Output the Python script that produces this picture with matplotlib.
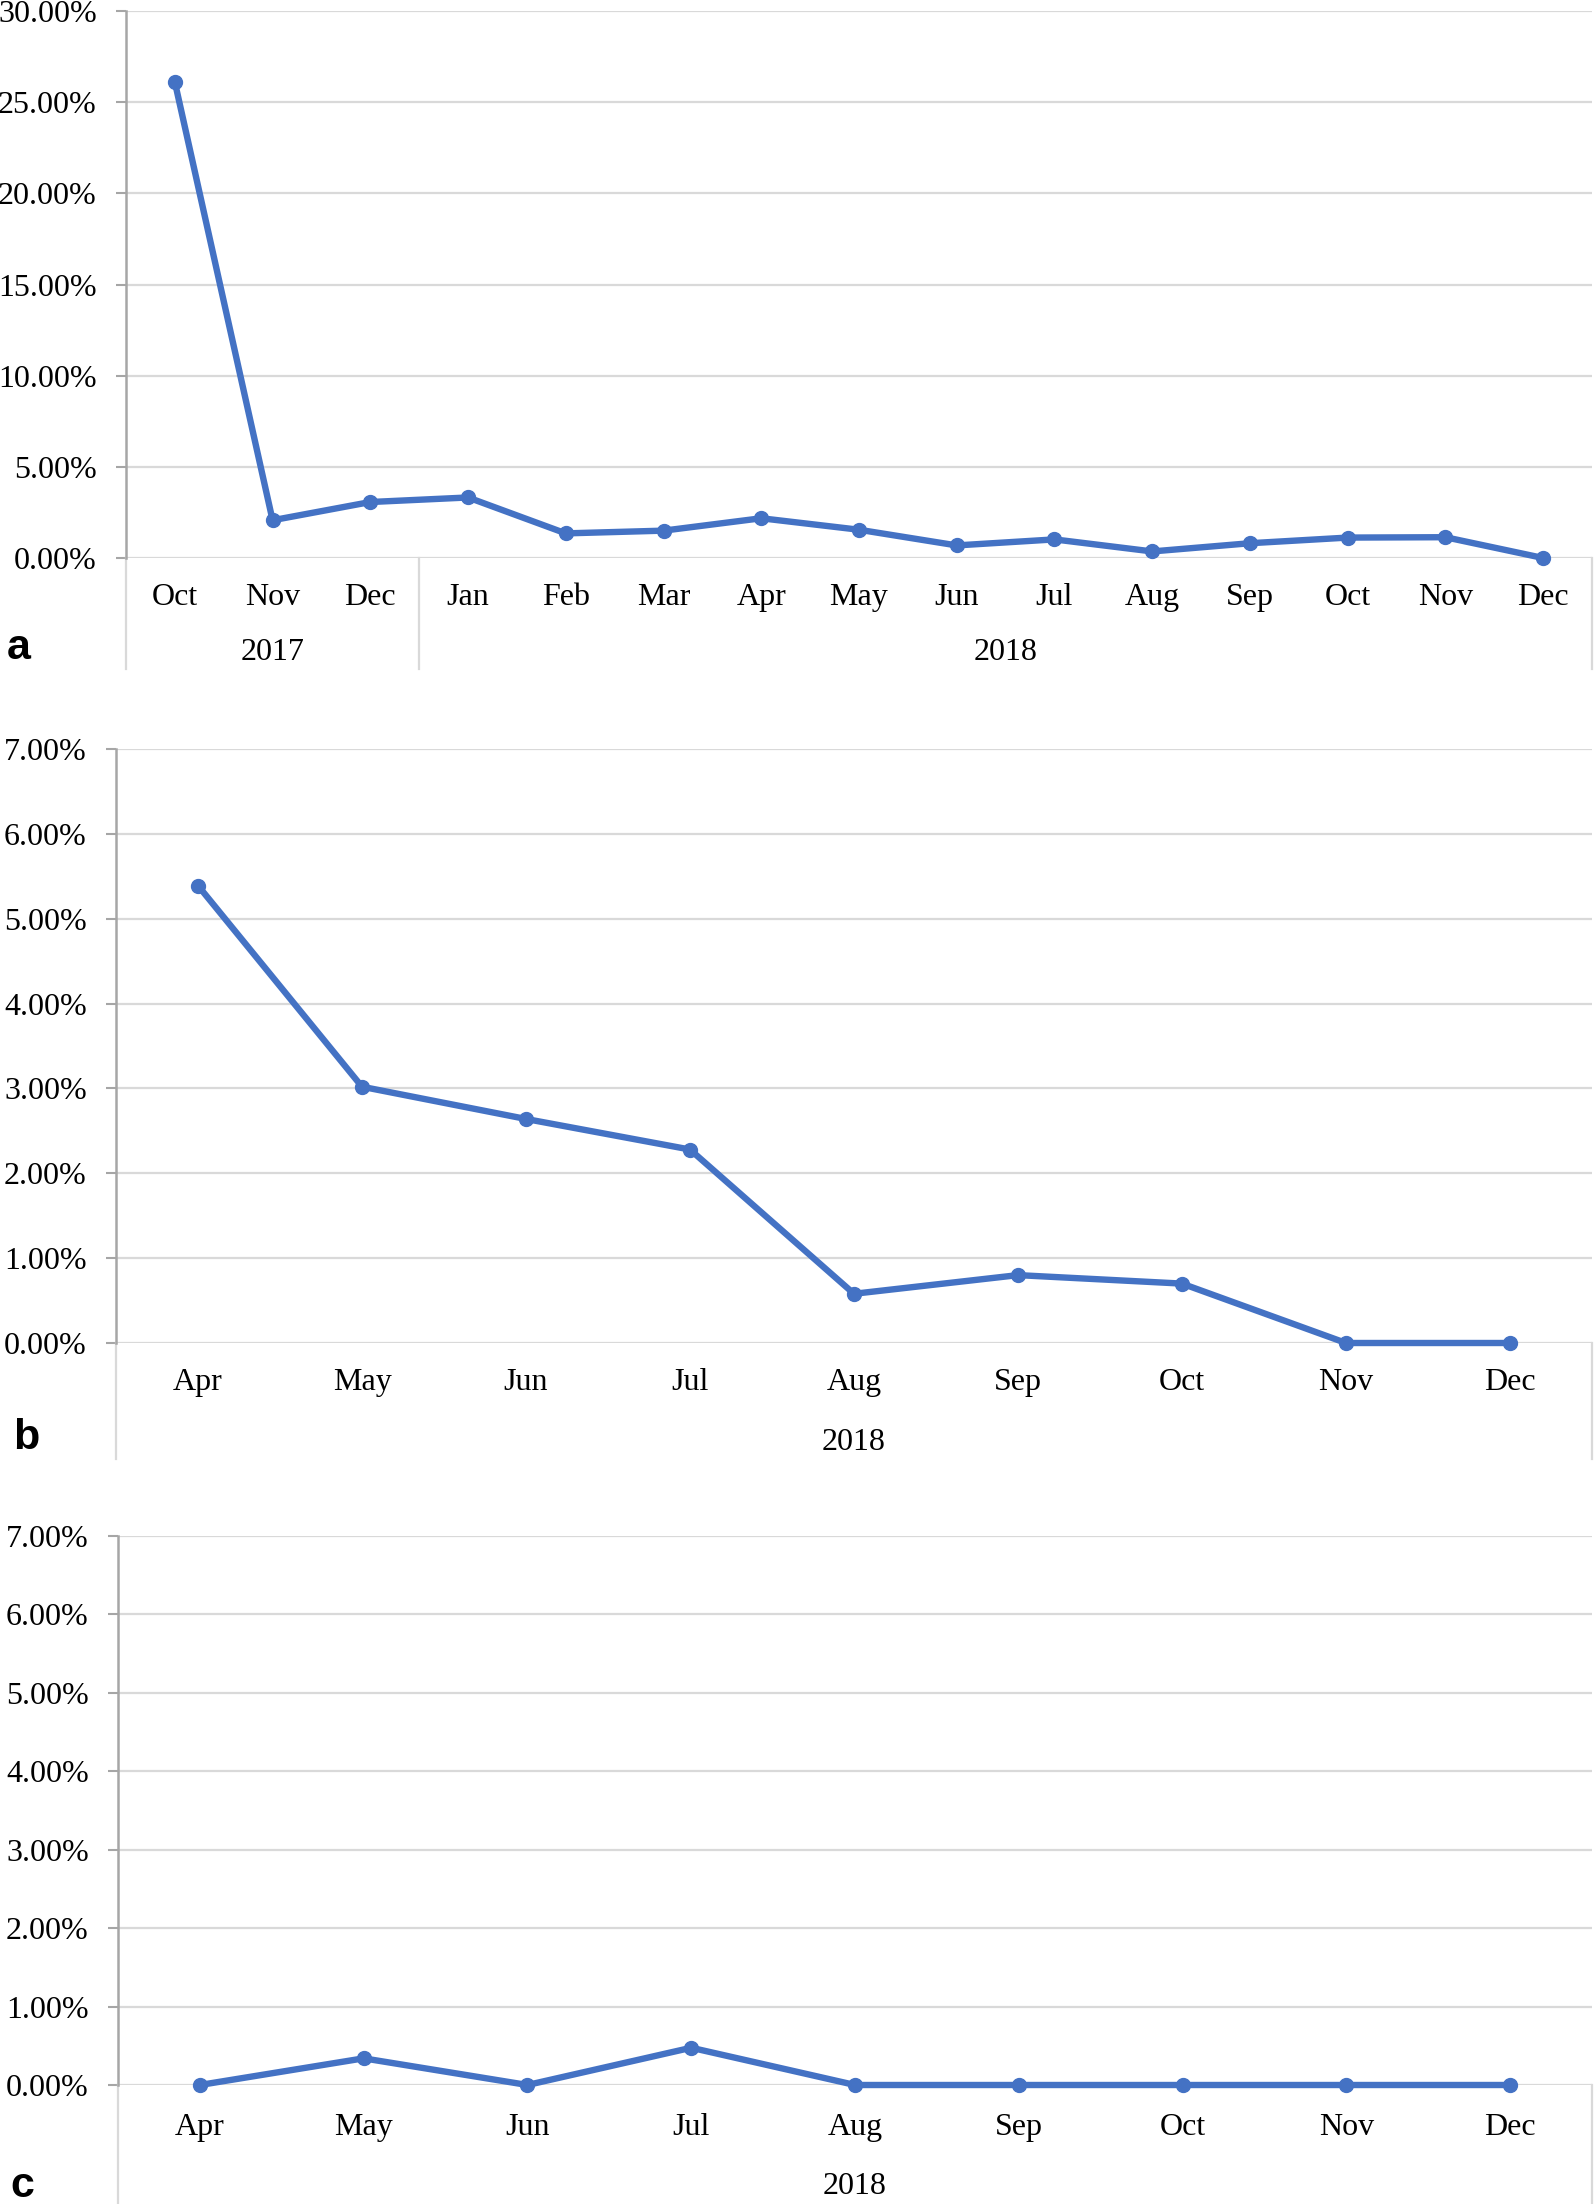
import matplotlib
matplotlib.use("Agg")
import matplotlib.pyplot as plt
import matplotlib.transforms as mtransforms
from matplotlib.ticker import PercentFormatter, MultipleLocator

plt.rcParams['font.family'] = ['Liberation Serif', 'DejaVu Serif']

# Panel a: Oct 2017 - Dec 2018
monthsA = ["Oct", "Nov", "Dec", "Jan", "Feb", "Mar", "Apr", "May",
           "Jun", "Jul", "Aug", "Sep", "Oct", "Nov", "Dec"]
valuesA = [26.1, 2.07, 3.07, 3.32, 1.35, 1.5, 2.18, 1.55,
           0.69, 1.02, 0.36, 0.81, 1.12, 1.14, 0.0]
yearsA = ["2017", "2018"]
yearSizesA = [3, 12]

# Panel b: Apr - Dec 2018
monthsB = ["Apr", "May", "Jun", "Jul", "Aug", "Sep", "Oct", "Nov", "Dec"]
valuesB = [5.39, 3.02, 2.64, 2.28, 0.58, 0.80, 0.70, 0.0, 0.0]

# Panel c: Apr - Dec 2018
monthsC = ["Apr", "May", "Jun", "Jul", "Aug", "Sep", "Oct", "Nov", "Dec"]
valuesC = [0.0, 0.34, 0.0, 0.475, 0.0, 0.0, 0.0, 0.0, 0.0]
yearsBC = ["2018"]
yearSizesBC = [9]

W, H = 1594, 2204
fig = plt.figure(figsize=(W / 100, H / 100), dpi=100)

lineColor = "#4472C4"
gridColor = "#D9D9D9"
axisColor = "#A6A6A6"
fs = 23


def makePanel(left, top, bottom, months, values, ymax, step, years, yearSizes,
              letter, boxDepth, letterX, monthPad, yearOffset, letterOffset):
    right = 1592
    ax = fig.add_axes([left / W, 1 - bottom / H, (right - left) / W, (bottom - top) / H])
    n = len(months)
    x = list(range(n))
    ax.plot(x, values, color=lineColor, lw=4.6, marker="o", ms=10, clip_on=False, zorder=3)
    ax.set_xlim(-0.5, n - 0.5)
    ax.set_ylim(0, ymax)
    ax.yaxis.set_major_locator(MultipleLocator(step))
    ax.yaxis.set_major_formatter(PercentFormatter(decimals=2))
    ax.grid(axis="y", color=gridColor, lw=1.6)
    ax.set_axisbelow(True)
    for s in ["top", "right", "bottom"]:
        ax.spines[s].set_visible(False)
    ax.spines["left"].set_color(axisColor)
    ax.spines["left"].set_linewidth(1.8)
    ax.tick_params(axis="y", length=7, width=1.5, color=axisColor, pad=14, labelsize=fs)
    ax.set_xticks(x)
    ax.set_xticklabels(months)
    ax.tick_params(axis="x", length=0, pad=monthPad, labelsize=fs)

    # category box below the axis
    trans = mtransforms.blended_transform_factory(ax.transData, ax.transAxes)
    depth = boxDepth / (bottom - top)
    edges = [-0.5]
    pos = -0.5
    for size in yearSizes:
        pos += size
        edges.append(pos)
    for e in edges:
        ax.plot([e, e], [0, -depth], color=gridColor, lw=1.6, transform=trans, clip_on=False)
    start = -0.5
    for year, size in zip(years, yearSizes):
        center = start + size / 2
        ax.annotate(year, xy=(center, 0), xycoords=trans, xytext=(0, yearOffset),
                    textcoords="offset pixels", ha="center", va="center", fontsize=fs)
        start += size

    fig.text(letterX / W, 1 - (bottom + letterOffset) / H, letter, fontsize=31,
             fontweight="bold", family="Liberation Sans", ha="left", va="center")
    return ax


makePanel(126, 11, 558, monthsA, valuesA, 30, 5, yearsA, yearSizesA, "a", 111, 7, 18, -94, 90)
makePanel(116, 749, 1343, monthsB, valuesB, 7, 1, yearsBC, yearSizesBC, "b", 116, 13, 18, -99, 95)
makePanel(118, 1536, 2085, monthsC, valuesC, 7, 1, yearsBC, yearSizesBC, "c", 130, 10, 20, -102, 101)

fig.savefig("out.png", dpi=100)
